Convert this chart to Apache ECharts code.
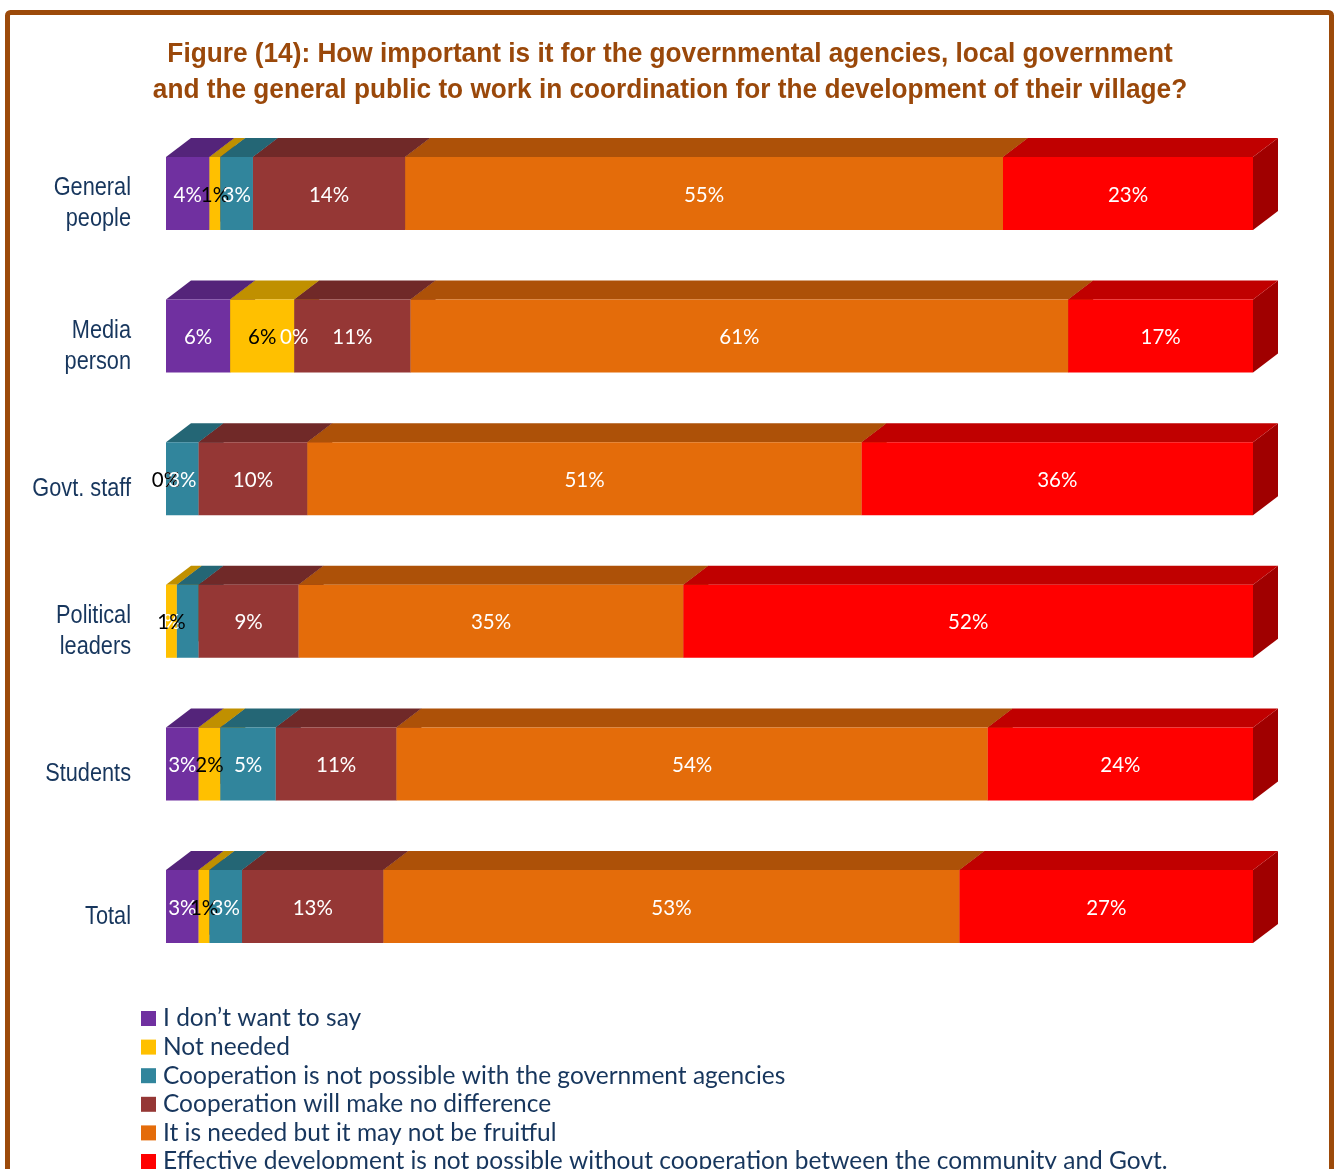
<!DOCTYPE html>
<html>
<head>
<meta charset="utf-8">
<title>Figure (14)</title>
<script src="https://cdn.jsdelivr.net/npm/echarts@6/dist/echarts.min.js"></script>
<style>
  html, body { margin: 0; padding: 0; background: #ffffff; }
  #chart { width: 1338px; height: 1169px; }
</style>
</head>
<body>
<div id="chart"></div>
<script>
// Respondent groups (top to bottom)
const categories = ['General\npeople', 'Media\nperson', 'Govt. staff', 'Political\nleaders', 'Students', 'Total'];

// Answer options, in stacking order
const seriesNames = [
  'I don\u2019t want to say',
  'Not needed',
  'Cooperation is not possible with the government agencies',
  'Cooperation will make no difference',
  'It is needed but it may not be fruitful',
  'Effective development is not possible without cooperation between the community and Govt.'
];

// Shares in percent per group
const noSay        = [4, 5.9, 0, 0, 3.0, 3];
const notNeeded    = [1, 5.9, 0, 1.0, 2.0, 1];
const notPossible  = [3, 0, 3, 2.0, 5.1, 3];
const noDifference = [14, 10.7, 10, 9.2, 11.1, 13];
const notFruitful  = [55, 60.5, 51, 35.4, 54.4, 53];
const effective    = [23, 17.0, 36, 52.4, 24.4, 27];

// Value labels left off the chart: [series index, group index]
const hiddenLabels = [[2, 3]];

const chartTitle = 'Figure (14): How important is it for the governmental agencies, local government\n' +
  'and the general public to work in coordination for the development of their village?';

const seriesValues = [noSay, notNeeded, notPossible, noDifference, notFruitful, effective];

// Face colours of the 3D bars
const frontColors = ['#7030A0', '#FFC000', '#31859C', '#953735', '#E46C0A', '#FF0000'];
const topColors   = ['#54247A', '#C09000', '#246675', '#702928', '#AD5108', '#C00000'];
const sideColors  = ['#46205F', '#A07800', '#1E5562', '#5E2221', '#8F4306', '#A00000'];
const labelColors = ['#ffffff', '#000000', '#ffffff', '#ffffff', '#ffffff', '#ffffff'];

const NAVY = '#17365D';
const BROWN = '#9A480A';
const NARROW = 0.82;     // horizontal squeeze giving a narrow sans face

const DEPTH_X = 25;      // horizontal extrusion of the 3D bars
const DEPTH_Y = 19;      // vertical extrusion of the 3D bars
const BAR_RATIO = 0.512; // front face height relative to the category band
const LIFT = 8.5;        // front face sits slightly above the category centre

function makeRender(s) {
  return function (params, api) {
    const start = api.value(0);
    const end = api.value(1);
    const cat = api.value(2);
    if (!(end > start)) return;
    const p0 = api.coord([start, cat]);
    const p1 = api.coord([end, cat]);
    const band = api.size([0, 1])[1];
    const h = band * BAR_RATIO;
    const x0 = p0[0], x1 = p1[0];
    const y0 = p0[1] - LIFT - h / 2;
    return {
      type: 'group',
      children: [
        {
          type: 'polygon',
          shape: { points: [[x1, y0], [x1 + DEPTH_X, y0 - DEPTH_Y], [x1 + DEPTH_X, y0 + h - DEPTH_Y], [x1, y0 + h]] },
          style: { fill: sideColors[s] }
        },
        {
          type: 'polygon',
          shape: { points: [[x0, y0], [x1, y0], [x1 + DEPTH_X, y0 - DEPTH_Y], [x0 + DEPTH_X, y0 - DEPTH_Y]] },
          style: { fill: topColors[s] }
        },
        {
          type: 'rect',
          shape: { x: x0, y: y0, width: x1 - x0, height: h },
          style: { fill: frontColors[s] }
        }
      ]
    };
  };
}

// Stack the segments group by group
const running = categories.map(() => 0);
const labelData = [];
const segmentSeries = seriesValues.map((vals, s) => {
  const data = vals.map((v, c) => {
    const a = running[c];
    running[c] += v;
    const hidden = hiddenLabels.some(h => h[0] === s && h[1] === c);
    if (!hidden) labelData.push([v > 0 ? a + v / 2 : a, c, s, v]);
    return [a, a + v, c, v];
  });
  return {
    type: 'custom',
    name: seriesNames[s],
    renderItem: makeRender(s),
    encode: { x: [0, 1], y: 2 },
    itemStyle: { color: frontColors[s] },
    silent: true,
    z: 2,
    data: data
  };
});

// Percentage labels on the front faces
const labelSeries = {
  type: 'custom',
  name: 'values',
  encode: { x: 0, y: 1 },
  silent: true,
  z: 10,
  data: labelData,
  renderItem: function (params, api) {
    const p = api.coord([api.value(0), api.value(1)]);
    const s = api.value(2);
    const v = api.value(3);
    return {
      type: 'text',
      x: p[0],
      y: p[1] - LIFT + 1.5,
      style: {
        text: Math.round(v) + '%',
        fill: labelColors[s],
        font: '20.5px Lato',
        align: 'center',
        verticalAlign: 'middle'
      }
    };
  }
};

// Group names beside the category axis, set in a narrow face
const groupNameSeries = {
  type: 'custom',
  name: 'groups',
  encode: { x: 0, y: 1 },
  silent: true,
  z: 10,
  data: categories.map((c, i) => [0, i]),
  renderItem: function (params, api) {
    const p = api.coord([0, api.value(1)]);
    return {
      type: 'text',
      x: p[0] - 35,
      y: p[1] + 1.5,
      scaleX: NARROW,
      style: {
        text: categories[params.dataIndex],
        fill: NAVY,
        font: '26.5px "Liberation Sans"',
        lineHeight: 31,
        align: 'right',
        verticalAlign: 'middle'
      }
    };
  }
};

const chart = echarts.init(document.getElementById('chart'), null, { renderer: 'canvas' });

chart.setOption({
  backgroundColor: '#ffffff',
  animation: false,
  graphic: [
    {
      type: 'rect',
      silent: true,
      z: -10,
      shape: { x: 7.5, y: 12.5, width: 1324, height: 1300, r: 3 },
      style: { fill: 'none', stroke: '#9C4A0A', lineWidth: 5 }
    },
    {
      type: 'text',
      silent: true,
      x: 670,
      y: 72,
      scaleX: 0.92,
      style: {
        text: chartTitle,
        fill: BROWN,
        font: 'bold 28.5px "Liberation Sans"',
        lineHeight: 36,
        align: 'center',
        verticalAlign: 'middle'
      }
    }
  ],
  legend: {
    orient: 'vertical',
    left: 141,
    top: 1006,
    height: 260,
    padding: 0,
    icon: 'rect',
    itemWidth: 15,
    itemHeight: 15,
    itemGap: 3.6,
    data: seriesNames,
    selectedMode: false,
    textStyle: {
      fontFamily: 'Lato',
      fontSize: 24.5,
      lineHeight: 24,
      color: NAVY,
      padding: [0, 0, 0, 2]
    }
  },
  grid: {
    left: 166,
    right: 85,
    top: 130.7,
    height: 855.6,
    containLabel: false
  },
  xAxis: {
    type: 'value',
    min: 0,
    max: 100,
    show: false
  },
  yAxis: {
    type: 'category',
    data: categories,
    inverse: true,
    axisLine: { show: false },
    axisTick: { show: false },
    splitLine: { show: false },
    axisLabel: { show: false }
  },
  series: segmentSeries.concat([labelSeries, groupNameSeries])
});
</script>
</body>
</html>
